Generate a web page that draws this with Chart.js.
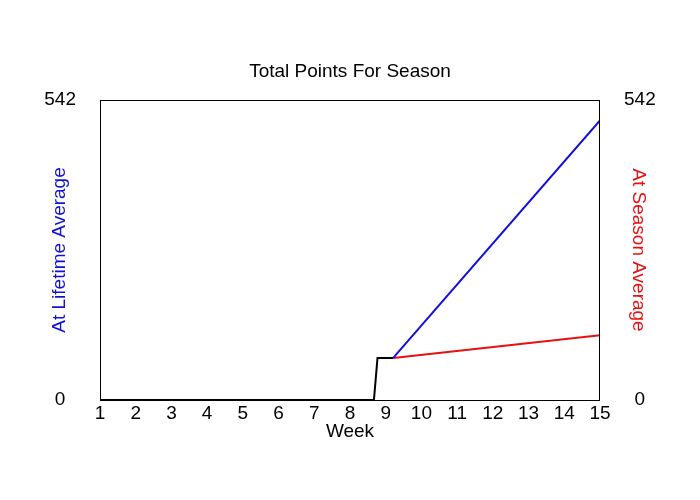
<!DOCTYPE html>
<html>
<head>
<meta charset="utf-8">
<title>Total Points For Season</title>
<script src="https://cdn.jsdelivr.net/npm/chart.js@4/dist/chart.umd.min.js"></script>
<style>
  html, body { margin: 0; padding: 0; background: #fff; }
  #wrap { width: 700px; height: 500px; }
</style>
</head>
<body>
<div id="wrap"><canvas id="seasonChart" width="700" height="500"></canvas></div>
<script>
// Chart data
const xTicks = [1, 2, 3, 4, 5, 6, 7, 8, 9, 10, 11, 12, 13, 14, 15];
const yTicks = [0, 542];

const actualWeeks = [1, 8.67, 8.77, 9.21];
const actualPoints = [0, 0, 76, 76];

const lifetimeWeeks = [9.21, 15];
const lifetimePoints = [76, 505];

const seasonWeeks = [9.21, 15];
const seasonPoints = [76, 117];

const FONT = 'Liberation Sans, Arial, sans-serif';

function toXY(xs, ys) {
  return xs.map((x, i) => ({ x: x, y: ys[i] }));
}

// Box around the plot area
const framePlugin = {
  id: 'frame',
  afterDatasetsDraw(chart) {
    const { ctx, chartArea: a } = chart;
    ctx.save();
    ctx.strokeStyle = '#000';
    ctx.lineWidth = 1;
    ctx.strokeRect(a.left + 0.5, a.top + 0.5, a.right - a.left - 1, a.bottom - a.top);
    ctx.restore();
  }
};

const line = (label, data, color, order) => ({
  label: label,
  data: data,
  borderColor: color,
  borderWidth: 2,
  pointRadius: 0,
  tension: 0,
  fill: false,
  order: order
});

new Chart(document.getElementById('seasonChart'), {
  type: 'line',
  data: {
    datasets: [
      line('At Lifetime Average', toXY(lifetimeWeeks, lifetimePoints), '#1010d8', 1),
      line('At Season Average', toXY(seasonWeeks, seasonPoints), '#e81010', 2),
      line('Actual', toXY(actualWeeks, actualPoints), '#000', 3)
    ]
  },
  options: {
    responsive: false,
    animation: false,
    devicePixelRatio: 1,
    layout: { padding: 0 },
    plugins: {
      legend: { display: false },
      tooltip: { enabled: false },
      title: {
        display: true,
        text: 'Total Points For Season',
        color: '#000',
        font: { family: FONT, size: 19, weight: 'normal' },
        padding: { top: 60, bottom: 17.2 }
      }
    },
    scales: {
      x: {
        type: 'linear',
        min: 1,
        max: 15,
        afterBuildTicks: (s) => { s.ticks = xTicks.map(v => ({ value: v })); },
        afterFit: (s) => { s.height = 100; },
        grid: { display: false, drawTicks: false },
        border: { display: false },
        ticks: {
          color: '#000',
          padding: 2,
          maxRotation: 0,
          autoSkip: false,
          font: { family: FONT, size: 19 }
        },
        title: {
          display: true,
          text: 'Week',
          color: '#000',
          font: { family: FONT, size: 19 },
          padding: { top: 0, bottom: 56.6 }
        }
      },
      y: {
        position: 'left',
        min: 0,
        max: 542,
        afterBuildTicks: (s) => { s.ticks = yTicks.map(v => ({ value: v })); },
        afterFit: (s) => { s.width = 100; },
        grid: { display: false, drawTicks: false },
        border: { display: false },
        ticks: {
          color: '#000',
          padding: 24,
          crossAlign: 'center',
          font: { family: FONT, size: 19 }
        },
        title: {
          display: true,
          text: 'At Lifetime Average',
          color: '#1010d8',
          font: { family: FONT, size: 19 },
          padding: { top: 48.6, bottom: 0 }
        }
      },
      y2: {
        position: 'right',
        min: 0,
        max: 542,
        afterBuildTicks: (s) => { s.ticks = yTicks.map(v => ({ value: v })); },
        afterFit: (s) => { s.width = 100; },
        grid: { display: false, drawTicks: false },
        border: { display: false },
        ticks: {
          color: '#000',
          padding: 24,
          crossAlign: 'center',
          font: { family: FONT, size: 19 }
        },
        title: {
          display: true,
          text: 'At Season Average',
          color: '#e81010',
          font: { family: FONT, size: 19 },
          padding: { top: 50.6, bottom: 0 }
        }
      }
    }
  },
  plugins: [framePlugin]
});
</script>
</body>
</html>
